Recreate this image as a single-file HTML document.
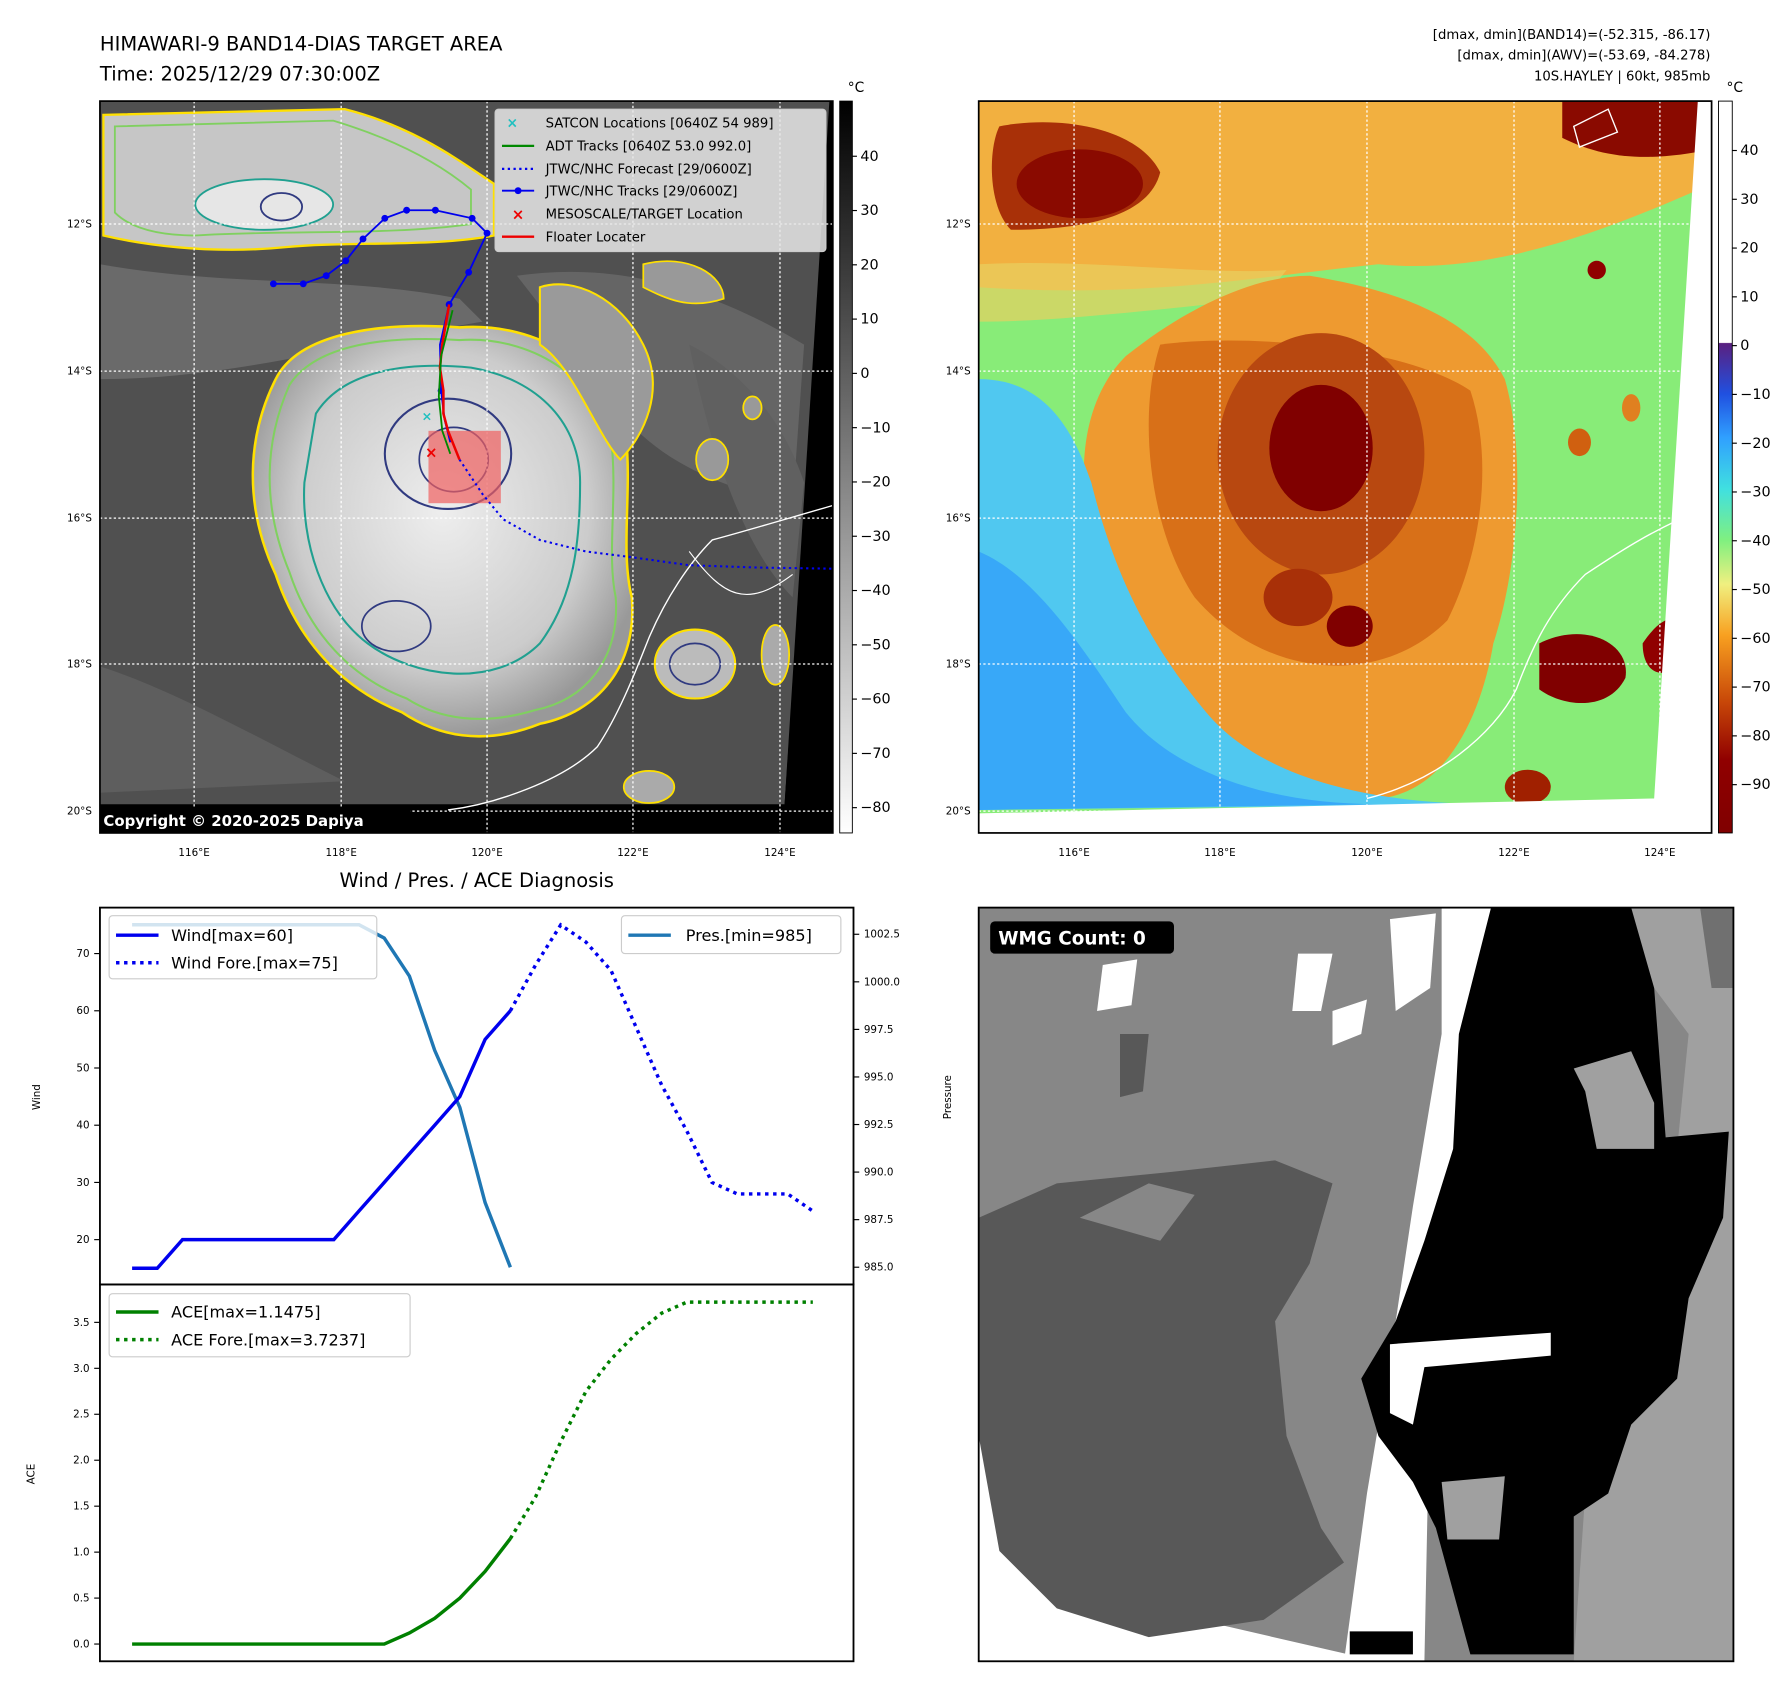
<!DOCTYPE html>
<html><head><meta charset="utf-8"><style>
html,body{margin:0;padding:0;background:#fff;width:1792px;height:1690px;overflow:hidden}
svg{display:block;font-family:"DejaVu Sans","Liberation Sans",sans-serif}
</style></head><body>
<svg id="root" width="1792" height="1690" viewBox="0 0 1560 1471" preserveAspectRatio="none">
<defs>
<linearGradient id="gcb" x1="0" y1="0" x2="0" y2="1"><stop offset="0" stop-color="#000"/><stop offset="1" stop-color="#fff"/></linearGradient>
<linearGradient id="ccb" x1="0" y1="0" x2="0" y2="1">
<stop offset="0" stop-color="#fff"/><stop offset="0.33" stop-color="#fff"/><stop offset="0.331" stop-color="#5a2080"/>
<stop offset="0.40" stop-color="#2050e0"/><stop offset="0.46" stop-color="#30a0ff"/><stop offset="0.53" stop-color="#40e0e0"/>
<stop offset="0.60" stop-color="#80f080"/><stop offset="0.66" stop-color="#f0f080"/><stop offset="0.73" stop-color="#f8a020"/>
<stop offset="0.82" stop-color="#c84808"/><stop offset="0.9" stop-color="#900000"/><stop offset="1" stop-color="#800000"/></linearGradient>
<radialGradient id="storm" cx="0.5" cy="0.45" r="0.55"><stop offset="0" stop-color="#eee"/><stop offset="0.7" stop-color="#ccc"/><stop offset="1" stop-color="#999"/></radialGradient>
<clipPath id="c1"><rect x="87" y="88" width="638" height="637"/></clipPath>
<clipPath id="c2"><rect x="852" y="88" width="638" height="637"/></clipPath>
<clipPath id="c3"><rect x="852" y="790" width="657" height="656"/></clipPath>
</defs>

<text x="87" y="44" font-size="17">HIMAWARI-9 BAND14-DIAS TARGET AREA</text>
<text x="87" y="70" font-size="17">Time: 2025/12/29 07:30:00Z</text>
<g font-size="11.5" text-anchor="end">
<text x="1489" y="34">[dmax, dmin](BAND14)=(-52.315, -86.17)</text>
<text x="1489" y="52">[dmax, dmin](AWV)=(-53.69, -84.278)</text>
<text x="1489" y="70">10S.HAYLEY | 60kt, 985mb</text>
</g>

<g clip-path="url(#c1)">
<rect x="87" y="88" width="638" height="637" fill="#505050"/>
<path d="M87,230 C200,250 300,240 400,260 L420,280 C300,300 200,330 87,330Z" fill="#6a6a6a"/>
<path d="M450,240 C520,230 600,240 700,300 L690,440 C620,420 560,400 520,330Z" fill="#656565"/>
<path d="M87,580 C150,600 220,640 300,680 L87,690Z" fill="#5e5e5e"/>
<path d="M600,300 C640,320 680,360 700,420 L690,520 C650,480 620,400 600,300Z" fill="#606060"/>
<path d="M90,100 L300,95 C360,110 400,140 430,160 L430,205 C380,215 300,210 250,215 C180,222 120,212 90,205Z" fill="#c6c6c6" stroke="#ffe000" stroke-width="2"/>
<path d="M100,110 L290,105 C340,120 380,140 410,165 L410,195 C340,205 250,200 170,205 C130,205 110,195 100,185Z" fill="none" stroke="#80d060" stroke-width="1.6"/>
<ellipse cx="230" cy="178" rx="60" ry="22" fill="#e6e6e6" stroke="#20a090" stroke-width="1.6"/>
<ellipse cx="245" cy="180" rx="18" ry="12" fill="none" stroke="#303a80" stroke-width="1.6"/>
<path d="M240,330 C260,290 330,280 400,285 C470,280 530,320 545,380 C550,430 540,480 550,520 C555,580 520,620 470,630 C420,650 380,640 350,620 C300,600 260,560 240,500 C212,440 215,380 240,330Z" fill="url(#storm)" stroke="#ffe000" stroke-width="2.2"/>
<path d="M252,335 C275,300 335,292 400,296 C462,292 518,328 532,382 C538,432 528,482 536,520 C540,575 508,610 466,618 C420,632 382,626 354,608 C306,590 270,552 252,498 C228,440 230,385 252,335Z" fill="none" stroke="#80d060" stroke-width="1.8"/>
<path d="M275,360 C300,320 360,315 410,320 C470,330 505,370 505,420 C505,470 500,520 470,560 C430,600 360,590 320,560 C280,530 262,470 265,420 Z" fill="none" stroke="#20a090" stroke-width="1.8"/>
<ellipse cx="390" cy="395" rx="55" ry="48" fill="none" stroke="#303a80" stroke-width="1.8"/>
<ellipse cx="395" cy="400" rx="30" ry="28" fill="none" stroke="#303a80" stroke-width="1.5"/>
<ellipse cx="345" cy="545" rx="30" ry="22" fill="none" stroke="#303a80" stroke-width="1.5"/>
<path d="M470,250 C500,240 540,260 560,300 C580,340 560,380 540,400 C520,380 500,320 470,300Z" fill="#9a9a9a" stroke="#ffe000" stroke-width="1.8"/>
<path d="M560,230 C600,220 630,240 630,260 C600,270 580,260 560,250Z" fill="#999" stroke="#ffe000" stroke-width="1.5"/>
<ellipse cx="605" cy="578" rx="35" ry="30" fill="#bbb" stroke="#ffe000" stroke-width="1.8"/>
<ellipse cx="605" cy="578" rx="22" ry="18" fill="none" stroke="#303a80" stroke-width="1.5"/>
<ellipse cx="675" cy="570" rx="12" ry="26" fill="#aaa" stroke="#ffe000" stroke-width="1.5"/>
<ellipse cx="565" cy="685" rx="22" ry="14" fill="#aaa" stroke="#ffe000" stroke-width="1.5"/>
<ellipse cx="620" cy="400" rx="14" ry="18" fill="#999" stroke="#ffe000" stroke-width="1.5"/>
<ellipse cx="655" cy="355" rx="8" ry="10" fill="#999" stroke="#ffe000" stroke-width="1.5"/>
<polygon points="725,88 725,725 87,725 87,700 683,700" fill="#000"/>
<polygon points="725,88 722,88 683,700 725,700" fill="#000"/>
<path d="M390,705 C430,700 490,680 520,650 C540,620 555,580 565,555 C580,520 600,490 620,470 C650,462 690,450 725,440" fill="none" stroke="#fff" stroke-width="1.2"/>
<path d="M600,480 C630,520 650,530 690,500" fill="none" stroke="#fff" stroke-width="1"/>
</g>
<g stroke="#fff" stroke-width="1.1" stroke-dasharray="2,2" clip-path="url(#c1)">
<line x1="169" y1="88" x2="169" y2="725"/><line x1="297" y1="88" x2="297" y2="725"/><line x1="424" y1="88" x2="424" y2="725"/><line x1="551" y1="88" x2="551" y2="725"/><line x1="679" y1="88" x2="679" y2="725"/>
<line x1="87" y1="195" x2="725" y2="195"/><line x1="87" y1="323" x2="725" y2="323"/><line x1="87" y1="451" x2="725" y2="451"/><line x1="87" y1="578" x2="725" y2="578"/><line x1="87" y1="706" x2="725" y2="706"/>
</g>
<g clip-path="url(#c1)">
<rect x="373" y="375" width="63" height="63" fill="#f06060" opacity="0.7"/>
<polyline points="400,400 420,430 438,452 470,470 510,480 550,485 600,492 660,494 725,495" fill="none" stroke="#0000ee" stroke-width="1.8" stroke-dasharray="2,3"/>
<polyline points="238,247 264,247 284,240 301,227 316,208 335,190 354,183 379,183 411,190 424,203 415,222 408,237 391,265 383,300 384,340 387,365 392,385" fill="none" stroke="#0000ee" stroke-width="1.6"/>
<g fill="#0000ee"><circle cx="238" cy="247" r="3"/><circle cx="264" cy="247" r="3"/><circle cx="284" cy="240" r="3"/><circle cx="301" cy="227" r="3"/><circle cx="316" cy="208" r="3"/><circle cx="335" cy="190" r="3"/><circle cx="354" cy="183" r="3"/><circle cx="379" cy="183" r="3"/><circle cx="411" cy="190" r="3"/><circle cx="424" cy="203" r="3"/><circle cx="408" cy="237" r="3"/><circle cx="391" cy="265" r="3"/><circle cx="384" cy="340" r="3"/></g>
<polyline points="391,265 385,300 383,320 386,340 386,360 390,375 400,400" fill="none" stroke="#ee0000" stroke-width="2.2"/>
<polyline points="394,270 384,310 382,345 385,375 392,395" fill="none" stroke="#008800" stroke-width="1.6"/>
<text x="370" y="398" fill="#ee0000" font-size="13" font-weight="bold">×</text>
<text x="367" y="366" fill="#20c0c0" font-size="11" font-weight="bold">×</text>
</g>
<rect x="87" y="88" width="638" height="637" fill="none" stroke="#000" stroke-width="1.5"/>
<rect x="87" y="703" width="270" height="22" fill="#000"/>
<text x="90" y="719" font-size="13" font-weight="bold" fill="#fff">Copyright © 2020-2025 Dapiya</text>
<g font-size="11.5">
<rect x="431" y="95" width="288" height="124" rx="3" fill="#e8e8e8" fill-opacity="0.85" stroke="#ccc"/>
<text x="446" y="111" fill="#20c0c0" font-size="12" font-weight="bold" text-anchor="middle">×</text><text x="475" y="111">SATCON Locations [0640Z 54 989]</text>
<line x1="437" y1="127" x2="465" y2="127" stroke="#008800" stroke-width="2"/><text x="475" y="131">ADT Tracks [0640Z 53.0 992.0]</text>
<line x1="437" y1="147" x2="465" y2="147" stroke="#0000ee" stroke-width="2" stroke-dasharray="2,3"/><text x="475" y="151">JTWC/NHC Forecast [29/0600Z]</text>
<line x1="437" y1="166" x2="465" y2="166" stroke="#0000ee" stroke-width="1.6"/><circle cx="451" cy="166" r="3" fill="#0000ee"/><text x="475" y="170">JTWC/NHC Tracks [29/0600Z]</text>
<text x="451" y="191" fill="#ee0000" font-size="13" font-weight="bold" text-anchor="middle">×</text><text x="475" y="190">MESOSCALE/TARGET Location</text>
<line x1="437" y1="206" x2="465" y2="206" stroke="#ee0000" stroke-width="2"/><text x="475" y="210">Floater Locater</text>
</g>
<g font-size="9" text-anchor="middle">
<text x="169" y="745">116°E</text><text x="297" y="745">118°E</text><text x="424" y="745">120°E</text><text x="551" y="745">122°E</text><text x="679" y="745">124°E</text></g>
<g font-size="9" text-anchor="end">
<text x="80" y="198">12°S</text><text x="80" y="326">14°S</text><text x="80" y="454">16°S</text><text x="80" y="581">18°S</text><text x="80" y="709">20°S</text></g>
<rect x="731" y="88" width="11" height="637" fill="url(#gcb)" stroke="#000" stroke-width="0.8"/>
<text x="738" y="80" font-size="12">°C</text>
<g id="cb1" font-size="12.5"></g>

<g clip-path="url(#c2)">
<rect x="852" y="88" width="638" height="637" fill="#88ec78"/>
<path d="M852,88 L1490,88 L1490,160 C1400,200 1300,240 1200,230 C1100,240 1000,260 852,250Z" fill="#f2b040"/>
<path d="M852,230 C950,225 1050,240 1120,235 L1100,260 C1000,270 920,280 852,280Z" fill="#e8d060" opacity="0.7"/>
<path d="M870,110 C920,100 990,110 1010,150 C1000,190 940,200 880,200 C860,180 860,130 870,110Z" fill="#a83008"/>
<ellipse cx="940" cy="160" rx="55" ry="30" fill="#8a0a00"/>
<path d="M1360,88 L1490,88 L1490,130 C1440,140 1400,140 1360,120Z" fill="#8a0a00"/>
<path d="M1140,240 C1200,250 1280,270 1310,330 C1330,400 1320,500 1300,560 C1290,620 1260,690 1200,695 L1100,695 C1020,620 980,560 955,480 C935,420 940,350 980,310 C1030,270 1090,240 1140,240Z" fill="#ee9a30"/>
<path d="M1010,300 C1080,290 1220,300 1280,340 C1300,400 1290,480 1260,540 C1200,600 1100,590 1040,520 C1000,460 990,360 1010,300Z" fill="#d87018"/>
<ellipse cx="1150" cy="395" rx="90" ry="105" fill="#b84810"/>
<ellipse cx="1150" cy="390" rx="45" ry="55" fill="#800000"/>
<ellipse cx="1175" cy="545" rx="20" ry="18" fill="#800000"/>
<ellipse cx="1130" cy="520" rx="30" ry="25" fill="#a83008"/>
<path d="M852,330 C900,330 930,360 950,420 C970,500 1000,560 1050,620 C1100,680 1200,700 1300,700 L852,705Z" fill="#50c8f0"/>
<path d="M852,480 C900,500 940,560 980,620 C1020,670 1100,700 1200,700 L852,705Z" fill="#38a8f8"/>
<path d="M1340,560 C1380,540 1420,560 1415,590 C1400,620 1360,615 1340,600Z" fill="#800000"/>
<path d="M1430,560 C1450,530 1470,530 1465,570 C1460,590 1430,595 1430,560Z" fill="#900000"/>
<ellipse cx="1330" cy="685" rx="20" ry="15" fill="#a02000"/>
<ellipse cx="1390" cy="235" rx="8" ry="8" fill="#900000"/>
<ellipse cx="1375" cy="385" rx="10" ry="12" fill="#d06010"/>
<ellipse cx="1420" cy="355" rx="8" ry="12" fill="#e08020"/>
<polygon points="1490,88 1490,725 852,725 852,708 1440,695 1478,88" fill="#fff"/>
<path d="M1190,695 C1250,680 1300,640 1320,600 C1335,560 1350,530 1380,500 C1410,480 1440,460 1490,440" fill="none" stroke="#fff" stroke-width="1.2"/>
<path d="M1370,110 L1400,95 L1408,115 L1375,128Z" fill="none" stroke="#fff" stroke-width="1.2"/>
</g>
<g stroke="#fff" stroke-width="1.1" stroke-dasharray="2,2" clip-path="url(#c2)">
<line x1="935" y1="88" x2="935" y2="725"/><line x1="1062" y1="88" x2="1062" y2="725"/><line x1="1190" y1="88" x2="1190" y2="725"/><line x1="1318" y1="88" x2="1318" y2="725"/><line x1="1445" y1="88" x2="1445" y2="725"/>
<line x1="852" y1="195" x2="1490" y2="195"/><line x1="852" y1="323" x2="1490" y2="323"/><line x1="852" y1="451" x2="1490" y2="451"/><line x1="852" y1="578" x2="1490" y2="578"/><line x1="852" y1="706" x2="1490" y2="706"/>
</g>
<rect x="852" y="88" width="638" height="637" fill="none" stroke="#000" stroke-width="1.5"/>
<g font-size="9" text-anchor="middle">
<text x="935" y="745">116°E</text><text x="1062" y="745">118°E</text><text x="1190" y="745">120°E</text><text x="1318" y="745">122°E</text><text x="1445" y="745">124°E</text></g>
<g font-size="9" text-anchor="end">
<text x="845" y="198">12°S</text><text x="845" y="326">14°S</text><text x="845" y="454">16°S</text><text x="845" y="581">18°S</text><text x="845" y="709">20°S</text></g>
<rect x="1496" y="88" width="12" height="637" fill="url(#ccb)" stroke="#000" stroke-width="0.8"/>
<text x="1503" y="80" font-size="12">°C</text>
<g id="cb2" font-size="12.5"></g>

<text x="415" y="772" font-size="17" text-anchor="middle">Wind / Pres. / ACE Diagnosis</text>
<rect x="87" y="790" width="656" height="328" fill="none" stroke="#000" stroke-width="1.6"/>
<rect x="87" y="1118" width="656" height="328" fill="none" stroke="#000" stroke-width="1.6"/>
<text transform="translate(35,955) rotate(-90)" font-size="9" text-anchor="middle">Wind</text>
<text transform="translate(828,955) rotate(-90)" font-size="9" text-anchor="middle">Pressure</text>
<text transform="translate(30,1283) rotate(-90)" font-size="9" text-anchor="middle">ACE</text>
<g id="axes" font-size="9"></g>
<g id="marks"></g>
<g font-size="14">
<rect x="95" y="797" width="233" height="55" rx="3" fill="#fff" fill-opacity="0.8" stroke="#ccc"/>
<line x1="101" y1="814" x2="138" y2="814" stroke="#0000ee" stroke-width="3"/><text x="149" y="819">Wind[max=60]</text>
<line x1="101" y1="838" x2="138" y2="838" stroke="#0000ee" stroke-width="3" stroke-dasharray="3,4"/><text x="149" y="843">Wind Fore.[max=75]</text>
</g>
<g font-size="14">
<rect x="541" y="797" width="191" height="33" rx="3" fill="#fff" fill-opacity="0.8" stroke="#ccc"/>
<line x1="547" y1="814" x2="584" y2="814" stroke="#1f77b4" stroke-width="3"/><text x="597" y="819">Pres.[min=985]</text>
</g>
<g font-size="14">
<rect x="95" y="1126" width="262" height="55" rx="3" fill="#fff" fill-opacity="0.8" stroke="#ccc"/>
<line x1="101" y1="1142" x2="138" y2="1142" stroke="#008000" stroke-width="3"/><text x="149" y="1147">ACE[max=1.1475]</text>
<line x1="101" y1="1166" x2="138" y2="1166" stroke="#008000" stroke-width="3" stroke-dasharray="3,4"/><text x="149" y="1171">ACE Fore.[max=3.7237]</text>
</g>

<g clip-path="url(#c3)">
<rect x="852" y="790" width="657" height="656" fill="#878787"/>
<polygon points="1420,790 1509,790 1509,1446 1370,1446 1380,1300 1420,1200 1450,1100 1470,900 1440,860 1410,800" fill="#a0a0a0"/>
<polygon points="1480,790 1509,790 1509,860 1490,860" fill="#707070"/>
<polygon points="1255,790 1298,790 1268,1050 1245,1200 1240,1446 1170,1446 1190,1300 1215,1150 1230,1050 1255,900" fill="#fff"/>
<polygon points="1210,800 1250,795 1245,860 1215,880" fill="#fff"/>
<polygon points="1130,830 1160,830 1150,880 1125,880" fill="#fff"/>
<polygon points="1160,880 1190,870 1185,900 1160,910" fill="#fff"/>
<polygon points="960,840 990,835 985,875 955,880" fill="#fff"/>
<polygon points="852,1230 900,1300 1000,1400 1200,1446 852,1446" fill="#fff"/>
<polygon points="1298,790 1420,790 1440,860 1450,990 1505,985 1500,1060 1470,1130 1460,1200 1420,1240 1400,1300 1370,1320 1370,1440 1280,1440 1250,1330 1230,1290 1200,1250 1185,1200 1215,1150 1240,1080 1265,1000 1270,900" fill="#000"/>
<polygon points="1370,930 1420,915 1440,960 1440,1000 1390,1000 1380,950" fill="#a0a0a0"/>
<polygon points="1255,1290 1310,1285 1305,1340 1260,1340" fill="#a0a0a0"/>
<polygon points="1210,1170 1350,1160 1350,1180 1240,1190 1230,1240 1210,1230" fill="#fff"/>
<polygon points="852,1060 920,1030 1020,1020 1110,1010 1160,1030 1140,1100 1110,1150 1120,1250 1150,1330 1170,1360 1100,1410 1000,1425 920,1400 870,1350 852,1250" fill="#585858"/>
<polygon points="940,1060 1000,1030 1040,1040 1010,1080" fill="#878787"/>
<polygon points="975,900 1000,900 995,950 975,955" fill="#585858"/>
<polygon points="1175,1420 1230,1420 1230,1440 1175,1440" fill="#000"/>
</g>
<rect x="852" y="790" width="657" height="656" fill="none" stroke="#000" stroke-width="1.6"/>
<rect x="862" y="802" width="160" height="28" rx="4" fill="#000"/>
<text x="869" y="822" font-size="16" font-weight="bold" fill="#fff">WMG Count: 0</text>
</svg>
<script>
const windObs = [15,15,20,20,20,20,20,20,20,25,30,35,40,45,55,60];
const windFore = [60,68,75,72,67,57,47,39,30,28,28,28,25];
const presObs = [1003,1003,1003,1003,1003,1003,1003,1003,1003,1003,1002.3,1000.3,996.4,993.4,988.4,985];
const aceObs = [0,0,0,0,0,0,0,0,0,0,0,0.12,0.28,0.5,0.79,1.1475];
const aceFore = [1.1475,1.6,2.2,2.75,3.1,3.38,3.6,3.72,3.72,3.72,3.72,3.72,3.72];
const windTicks = [20,30,40,50,60,70];
const presTicks = [985,987.5,990,992.5,995,997.5,1000,1002.5];
const aceTicks = [0,0.5,1,1.5,2,2.5,3,3.5];
const cb1Ticks = [40,30,20,10,0,-10,-20,-30,-40,-50,-60,-70,-80];
const cb2Ticks = [40,30,20,10,0,-10,-20,-30,-40,-50,-60,-70,-80,-90];
const foreStart = 15;

const NS='http://www.w3.org/2000/svg';
function X(i){return 115+i*21.95;}
function YW(v){return 1079-(v-20)*4.98;}
function YP(p){return 1103-(p-985)*16.56;}
function YA(a){return 1431-a*80;}
function mk(tag,attrs,parent){const e=document.createElementNS(NS,tag);for(const k in attrs)e.setAttribute(k,attrs[k]);parent.appendChild(e);return e;}
function fmt(v){return (v<0?'\u2212':'')+Math.abs(v);}
const ax=document.getElementById('axes'), mg=document.getElementById('marks');
windTicks.forEach(v=>{const y=YW(v);
 const t=mk('line',{x1:82,y1:y,x2:87,y2:y,stroke:'#000'},ax);
 
 
 const l=mk('text',{x:78,y:y+3,'text-anchor':'end'},ax);l.textContent=v;
 
 });
presTicks.forEach(v=>{const y=YP(v);
 mk('line',{x1:743,y1:y,x2:748,y2:y,stroke:'#000'},ax);
 const l=mk('text',{x:752,y:y+3},ax);l.textContent=v.toFixed(1);
 
 });
aceTicks.forEach(v=>{const y=YA(v);
 mk('line',{x1:82,y1:y,x2:87,y2:y,stroke:'#000'},ax);
 const l=mk('text',{x:78,y:y+3,'text-anchor':'end'},ax);l.textContent=v.toFixed(1);
 
 });
function line(vals,off,fy,color,dash,name){
 const pts=vals.map((v,i)=>X(i+off).toFixed(1)+','+fy(v).toFixed(1)).join(' ');
 const p=mk('polyline',{points:pts,fill:'none',stroke:color,'stroke-width':3},mg);
 if(dash)p.setAttribute('stroke-dasharray',dash);
 
 }
line(presObs,0,YP,'#1f77b4',null,'pressure-line');
line(windObs,0,YW,'#0000ee',null,'wind-line');
line(windFore,foreStart,YW,'#0000ee','3,4','wind-forecast-line');
line(aceObs,0,YA,'#008000',null,'ace-line');
line(aceFore,foreStart,YA,'#008000','3,4','ace-forecast-line');
const cb1=document.getElementById('cb1');
cb1Ticks.forEach(v=>{const y=136+(40-v)*4.725;
 mk('line',{x1:742,y1:y,x2:746,y2:y,stroke:'#000'},cb1);
 const l=mk('text',{x:749,y:y+4},cb1);l.textContent=fmt(v);
 
 });
const cb2=document.getElementById('cb2');
cb2Ticks.forEach(v=>{const y=131+(40-v)*4.246;
 mk('line',{x1:1508,y1:y,x2:1512,y2:y,stroke:'#000'},cb2);
 const l=mk('text',{x:1515,y:y+4},cb2);l.textContent=fmt(v);
 
 });
</script>
</body></html>
